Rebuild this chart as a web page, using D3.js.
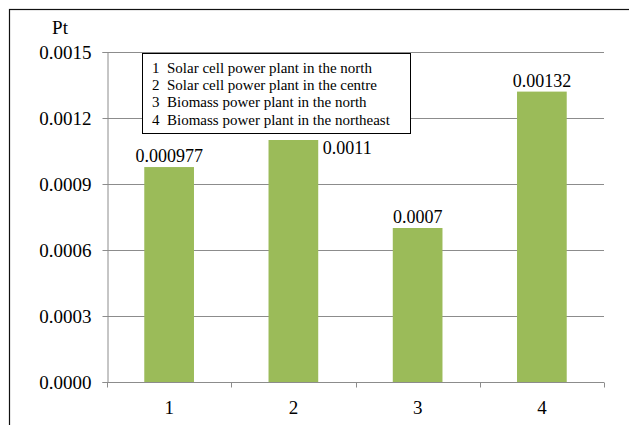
<!DOCTYPE html>
<html>
<head>
<meta charset="utf-8">
<script src="https://cdn.jsdelivr.net/npm/d3@7/dist/d3.min.js"></script>
<style>
  html, body { margin: 0; padding: 0; background: #fff; }
  svg { display: block; }
  svg text { font-family: "Liberation Serif", "Times New Roman", serif !important; }
</style>
</head>
<body>
<svg id="chart" width="629" height="425"></svg>
<script>
// Environmental impact (Pt) per power plant option
const categories = ["1", "2", "3", "4"];
const values = [0.000977, 0.0011, 0.0007, 0.00132];
const valueLabels = ["0.000977", "0.0011", "0.0007", "0.00132"];
const yTicks = [0, 0.0003, 0.0006, 0.0009, 0.0012, 0.0015];
const legendLines = [
  "1  Solar cell power plant in the north",
  "2  Solar cell power plant in the centre",
  "3  Biomass power plant in the north",
  "4  Biomass power plant in the northeast"
];

const svg = d3.select("#chart");
const W = 629, H = 425;
const plotLeft = 107, plotRight = 604, plotTop = 52, plotBottom = 382;

// outer chart frame (runs off the right and bottom edges)
svg.append("rect")
  .attr("x", 9.5).attr("y", 9.5)
  .attr("width", W + 10).attr("height", H + 10)
  .attr("fill", "none").attr("stroke", "#111").attr("stroke-width", 1.2);

const x = d3.scaleBand().domain(categories).range([plotLeft, plotRight])
  .paddingInner(0.6).paddingOuter(0.3);
const xAxisScale = d3.scaleBand().domain(categories).range([plotLeft, plotRight]);
const y = d3.scaleLinear().domain([0, 0.0015]).range([plotBottom, plotTop]);

// gridlines
svg.append("g").selectAll("line").data(yTicks.filter(d => d > 0)).join("line")
  .attr("x1", plotLeft).attr("x2", plotRight)
  .attr("y1", d => Math.round(y(d)) + 0.5).attr("y2", d => Math.round(y(d)) + 0.5)
  .attr("stroke", "#8c8c8c").attr("stroke-width", 1);

// y axis
const yAxis = svg.append("g").attr("transform", `translate(${plotLeft + 0.5},0)`)
  .call(d3.axisLeft(y).tickValues(yTicks).tickFormat(d3.format(".4f")).tickSize(5).tickPadding(11));
yAxis.select(".domain").attr("stroke", "#8c8c8c");
yAxis.selectAll(".tick line").attr("stroke", "#8c8c8c");
yAxis.selectAll(".tick text").attr("font-size", 19).attr("fill", "#000");

// x axis with ticks at category boundaries
const xg = svg.append("g").attr("transform", `translate(0,${plotBottom + 0.5})`);
xg.append("line").attr("x1", plotLeft).attr("x2", plotRight).attr("stroke", "#8c8c8c");
const bounds = categories.map(c => xAxisScale(c)).concat([plotRight]);
xg.selectAll("line.tk").data(bounds).join("line").attr("class", "tk")
  .attr("x1", d => Math.round(d) + 0.5).attr("x2", d => Math.round(d) + 0.5)
  .attr("y1", 0).attr("y2", 5).attr("stroke", "#8c8c8c");
xg.selectAll("text").data(categories).join("text")
  .attr("x", d => x(d) + x.bandwidth() / 2).attr("y", 31)
  .attr("text-anchor", "middle").attr("font-size", 19).attr("fill", "#000")
  .text(d => d);

// bars
svg.append("g").selectAll("rect").data(values).join("rect")
  .attr("x", (d, i) => x(categories[i]))
  .attr("y", d => y(d))
  .attr("width", x.bandwidth())
  .attr("height", d => plotBottom - y(d))
  .attr("fill", "#9bbb59");

// value labels: above each bar, except bar 2 which sits to the right of its top
svg.append("g").selectAll("text").data(values).join("text")
  .attr("x", (d, i) => i === 1 ? x(categories[i]) + x.bandwidth() + 4 : x(categories[i]) + x.bandwidth() / 2)
  .attr("y", (d, i) => i === 1 ? y(d) + 14 : y(d) - 5)
  .attr("text-anchor", "middle")
  .attr("dx", (d, i) => i === 1 ? 25 : 0)
  .attr("font-size", 18).attr("fill", "#000")
  .text((d, i) => valueLabels[i]);

// axis title
svg.append("text").attr("x", 60).attr("y", 34).attr("text-anchor", "middle")
  .attr("font-size", 19).attr("fill", "#000").text("Pt");

// legend box
const lg = svg.append("g");
lg.append("rect").attr("x", 142.5).attr("y", 53.5).attr("width", 268).attr("height", 80)
  .attr("fill", "#fff").attr("stroke", "#000").attr("stroke-width", 1);
lg.selectAll("text").data(legendLines).join("text")
  .attr("x", 152).attr("y", (d, i) => 73 + i * 17 + (i === 3 ? 1 : 0))
  .attr("font-size", 15).attr("fill", "#000")
  .style("white-space", "pre")
  .text(d => d);
</script>
</body>
</html>
